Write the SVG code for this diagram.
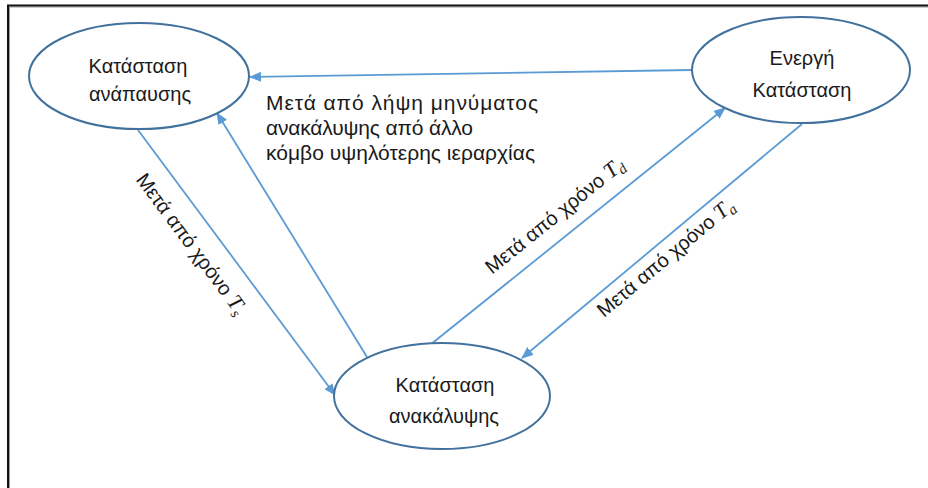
<svg xmlns="http://www.w3.org/2000/svg" width="928" height="488" viewBox="0 0 928 488">
  <defs>
    <marker id="arrow" markerUnits="userSpaceOnUse" markerWidth="12" markerHeight="10" refX="11" refY="5" orient="auto">
      <path d="M0,0 L12,5 L0,10 z" fill="#5B9BD5"/>
    </marker>
    <style>
      .node ellipse { fill: #FFFFFF; stroke: #41719C; stroke-width: 2; }
      .lbl { font-family: "Liberation Sans", Arial, sans-serif; font-size: 20px; fill: #1a1a1a; }
      .big { font-size: 21px; }
      .ctr { text-anchor: middle; }
      .conn line { stroke: #5B9BD5; stroke-width: 1.8; fill: none; }
      .math { font-family: "Liberation Serif", "Times New Roman", serif; font-style: italic; }
    </style>
  </defs>
  <rect width="928" height="488" fill="#FFFFFF"/>
  <g id="frame">
    <path d="M9.5,488 V7 H928" fill="none" stroke="#9a9a9a" stroke-width="1"/>
    <path d="M8,488 V5.5 H928" fill="none" stroke="#111" stroke-width="2"/>
  </g>

  <g id="connectors" class="conn">
    <line x1="692" y1="70" x2="250" y2="77" marker-end="url(#arrow)"/>
    <line x1="138" y1="130" x2="335" y2="395" marker-end="url(#arrow)"/>
    <line x1="367" y1="357" x2="217" y2="113" marker-end="url(#arrow)"/>
    <line x1="430" y1="345" x2="725" y2="108" marker-end="url(#arrow)"/>
    <line x1="802" y1="124" x2="522" y2="358" marker-end="url(#arrow)"/>
  </g>

  <g id="edge-labels">
    <text class="lbl big" x="266" y="110" textLength="272" lengthAdjust="spacing">Μετά από λήψη μηνύματος</text>
    <text class="lbl big" x="266" y="135" textLength="207" lengthAdjust="spacing">ανακάλυψης από άλλο</text>
    <text class="lbl big" x="266" y="160" textLength="269" lengthAdjust="spacing">κόμβο υψηλότερης ιεραρχίας</text>
    <text class="lbl ctr" transform="translate(186,248) rotate(53.4)">Μετά από χρόνο <tspan class="math" font-size="22">T</tspan><tspan class="math" font-size="15" dy="4">s</tspan></text>
    <text class="lbl ctr" transform="translate(559,221) rotate(-38.8)">Μετά από χρόνο <tspan class="math" font-size="22">T</tspan><tspan class="math" font-size="15" dy="4">d</tspan></text>
    <text class="lbl ctr" transform="translate(670,263) rotate(-39.9)">Μετά από χρόνο <tspan class="math" font-size="22">T</tspan><tspan class="math" font-size="15" dy="4">a</tspan></text>
  </g>

  <g id="node-rest" class="node">
    <ellipse cx="139" cy="76" rx="110" ry="53"/>
    <text class="lbl ctr" x="138" y="73">Κατάσταση</text>
    <text class="lbl ctr" x="140" y="101">ανάπαυσης</text>
  </g>
  <g id="node-active" class="node">
    <ellipse cx="801" cy="70" rx="109" ry="53"/>
    <text class="lbl ctr" x="802" y="65">Ενεργή</text>
    <text class="lbl ctr" x="802" y="97">Κατάσταση</text>
  </g>
  <g id="node-discovery" class="node">
    <ellipse cx="442" cy="396" rx="108" ry="53"/>
    <text class="lbl ctr" x="445" y="392">Κατάσταση</text>
    <text class="lbl ctr" x="444" y="423">ανακάλυψης</text>
  </g>
</svg>
